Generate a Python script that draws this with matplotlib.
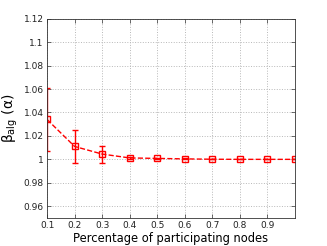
import numpy as np
import matplotlib
matplotlib.use('Agg')
import matplotlib.pyplot as plt

plt.rcParams['mathtext.default'] = 'regular'

# data
frac = [0.1, 0.2, 0.3, 0.4, 0.5, 0.6, 0.7, 0.8, 0.9, 1.0]
beta = [1.034, 1.011, 1.0045, 1.0012, 1.0008, 1.0004, 1.0001, 1.0, 1.0, 1.0]
err = [0.027, 0.014, 0.0072, 0.001, 0.0006, 0.0004, 0.0002, 0.0001, 0.0001, 0.0001]

xticks = [0.1, 0.2, 0.3, 0.4, 0.5, 0.6, 0.7, 0.8, 0.9]
yticks = [0.96, 0.98, 1.0, 1.02, 1.04, 1.06, 1.08, 1.1, 1.12]
ylabels = ['0.96', '0.98', '1', '1.02', '1.04', '1.06', '1.08', '1.1', '1.12']

fig = plt.figure(figsize=(3.27, 2.46), dpi=100)
ax = fig.add_axes([0.144, 0.114, 0.758, 0.81])

ax.errorbar(frac, beta, yerr=err, color='red', ls='--', lw=1.0,
            marker='s', ms=4, mfc='none', mec='red', mew=1.0,
            capsize=2.5, elinewidth=1.0, capthick=1.0)

ax.set_xlim(0.1, 1.0)
ax.set_ylim(0.95, 1.12)
ax.set_xticks(xticks)
ax.set_xticklabels([str(t) for t in xticks])
ax.set_yticks(yticks)
ax.set_yticklabels(ylabels)
ax.tick_params(direction='in', labelsize=6.5, length=3, width=0.5, pad=2.5,
               top=True, right=True, colors='#333333', labelcolor='#222222')
ax.grid(True, ls=':', color='#b8b8b8', lw=0.7)
for s in ax.spines.values():
    s.set_linewidth(0.6)
    s.set_color('#333333')

ax.set_xlabel('Percentage of participating nodes', fontsize=8.3, labelpad=1)
ax.set_ylabel(r'$\beta_{alg}$ ($\alpha$)', fontsize=10)
ax.yaxis.set_label_coords(-0.11, 0.5)

fig.savefig('out.png', dpi=100)
